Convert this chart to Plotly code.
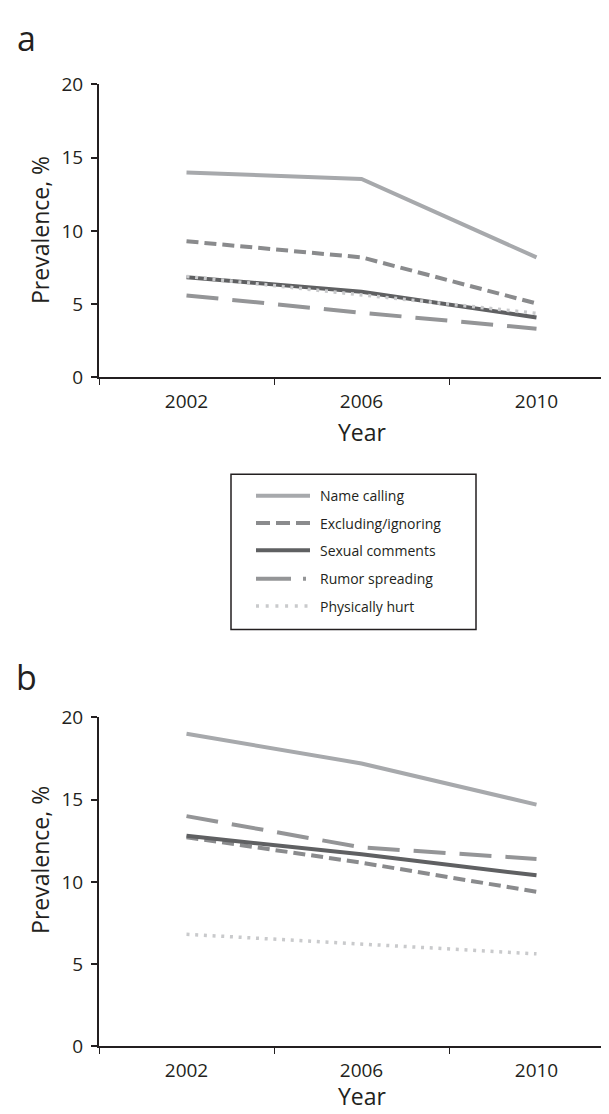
import plotly.graph_objects as go

# ---------------- data ----------------
years = [2002, 2006, 2010]
year_labels = ["2002", "2006", "2010"]
y_ticks = [0, 5, 10, 15, 20]
series_names = ["Name calling", "Excluding/ignoring", "Sexual comments",
                "Rumor spreading", "Physically hurt"]

# Panel a
a_name_calling = [14.0, 13.55, 8.2]
a_excluding = [9.3, 8.2, 5.05]
a_sexual = [6.85, 5.85, 4.1]
a_rumor = [5.6, 4.42, 3.33]
a_physical = [6.9, 5.65, 4.38]

# Panel b
b_name_calling = [19.0, 17.2, 14.7]
b_excluding = [12.72, 11.17, 9.4]
b_sexual = [12.8, 11.68, 10.4]
b_rumor = [14.0, 12.1, 11.4]
b_physical = [6.82, 6.2, 5.63]

panel_a = [a_name_calling, a_excluding, a_sexual, a_rumor, a_physical]
panel_b = [b_name_calling, b_excluding, b_sexual, b_rumor, b_physical]

# ---------------- styles ----------------
W, H = 609, 1114
FONT = "Open Sans"
INK = "#231f20"

colors = ["#a7a9ac", "#8a8b8d", "#5f6062", "#949597", "#c9cacc"]
widths = [4, 4, 4, 4, 3.5]
dashes = ["solid", "12px,6px", "solid", "32px,14px", "3px,5.7px"]
legend_dashes = ["solid", "14px,6px", "solid", "35px,12px,3px,20px", "3px,6.7px"]


def px(x):
    return x / W


def py(y):
    return 1 - y / H


fig = go.Figure()

for panel, xa, ya in [(panel_a, "x", "y"), (panel_b, "x2", "y2")]:
    for name, vals, c, w, d in zip(series_names, panel, colors, widths, dashes):
        fig.add_trace(go.Scatter(
            x=years, y=vals, mode="lines", name=name,
            line=dict(color=c, width=w, dash=d),
            xaxis=xa, yaxis=ya, showlegend=False, hoverinfo="skip"))

x_left = 91
x_per_year = 43.75
x_range = [2000, 2000 + (W - x_left) / x_per_year]

xaxis_common = dict(
    range=x_range, domain=[px(x_left), 1],
    showline=True, linecolor=INK, linewidth=2,
    tickmode="array", tickvals=years, ticktext=year_labels, ticks="",
    minor=dict(tickmode="array", tickvals=[2000, 2004, 2008], ticks="outside",
               ticklen=6, tickwidth=1.3, tickcolor=INK),
    showgrid=False, zeroline=False,
    tickfont=dict(family=FONT, size=19, color=INK),
    ticklabelstandoff=6,
)
yaxis_common = dict(
    range=[0, 20], tickmode="array", tickvals=y_ticks,
    ticks="outside", ticklen=6, tickwidth=1.5, tickcolor=INK,
    showline=True, linecolor=INK, linewidth=2,
    showgrid=False, zeroline=False,
    tickfont=dict(family=FONT, size=19, color=INK),
    ticklabelstandoff=4,
)

fig.update_layout(
    width=W, height=H,
    margin=dict(l=0, r=0, t=0, b=0),
    paper_bgcolor="white", plot_bgcolor="white",
    showlegend=False,
    xaxis=dict(anchor="y", **xaxis_common),
    yaxis=dict(anchor="x", domain=[py(365), py(65)], **yaxis_common),
    xaxis2=dict(anchor="y2", **xaxis_common),
    yaxis2=dict(anchor="x2", domain=[py(1050), py(713)], **yaxis_common),
)

annotations = []
shapes = []


def note(text, x, y, size, xanchor="center", angle=0):
    annotations.append(dict(text=text, x=px(x), y=py(y), xref="paper", yref="paper",
                            xanchor=xanchor, yanchor="middle", textangle=angle,
                            showarrow=False, font=dict(family=FONT, size=size, color=INK)))


# panel letters
note("a", 18, 17, 34)
note("b", 18, 672, 34)

# axis titles
for ycen in [214, 859]:
    note("Prevalence, %", 32, ycen, 23, angle=-90)
for ycen in [421, 1101]:
    note("Year", 354, ycen, 23)

# legend box
shapes.append(dict(type="rect", xref="paper", yref="paper",
                   x0=px(223), x1=px(468), y0=py(623), y1=py(464),
                   line=dict(color=INK, width=1.5), fillcolor="rgba(0,0,0,0)"))
row_y = [486, 514, 542, 571, 599]
for name, c, w, d, ry in zip(series_names, colors, widths, legend_dashes, row_y):
    shapes.append(dict(type="line", xref="paper", yref="paper",
                       x0=px(248), x1=px(302), y0=py(ry), y1=py(ry),
                       line=dict(color=c, width=w, dash=d)))
    note(name, 310, ry, 14, xanchor="left")

fig.update_layout(annotations=annotations, shapes=shapes)

fig.write_html("out.html")
